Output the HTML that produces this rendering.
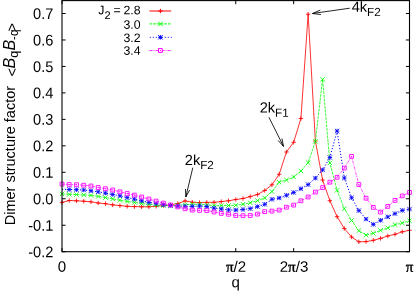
<!DOCTYPE html>
<html><head><meta charset="utf-8"><title>Dimer structure factor</title>
<style>html,body{margin:0;padding:0;background:#fff;}body{width:415px;height:291px;overflow:hidden;}svg{display:block;will-change:transform;}text{font-family:"Liberation Sans",sans-serif;fill:#000;}.s{font-family:"Liberation Serif",serif;stroke:#000;stroke-width:0.4px;}</style></head><body>
<svg width="415" height="291" viewBox="0 0 415 291">
<rect width="415" height="291" fill="#fff"/>
<g fill="none" stroke-linejoin="round">
<polyline points="62.00,202.40 69.24,200.50 76.48,200.80 83.72,201.20 90.96,201.80 98.20,203.00 105.44,203.70 112.68,204.90 119.92,205.60 127.16,206.30 134.40,206.60 141.64,206.80 148.88,206.80 156.11,206.30 163.35,205.60 170.59,204.90 177.83,203.50 185.07,200.90 192.31,202.20 199.55,202.60 206.79,202.40 214.03,202.30 221.27,201.60 228.51,200.80 235.75,199.50 242.99,198.50 250.23,196.60 257.47,194.50 264.71,190.50 271.95,184.80 279.19,174.30 286.43,152.00 293.67,142.30 300.91,118.50 308.15,14.20 315.39,141.00 322.62,180.00 329.86,200.70 337.10,216.70 344.34,228.50 351.58,237.00 358.82,241.80 366.06,241.60 373.30,240.30 380.54,238.40 387.78,236.00 395.02,234.30 402.26,231.80 409.50,230.30" stroke="#ff0000" stroke-width="0.8"/>
<path d="M59.80 202.40H64.20M62.00 200.20V204.60M67.04 200.50H71.44M69.24 198.30V202.70M74.28 200.80H78.68M76.48 198.60V203.00M81.52 201.20H85.92M83.72 199.00V203.40M88.76 201.80H93.16M90.96 199.60V204.00M96.00 203.00H100.40M98.20 200.80V205.20M103.24 203.70H107.64M105.44 201.50V205.90M110.48 204.90H114.88M112.68 202.70V207.10M117.72 205.60H122.12M119.92 203.40V207.80M124.96 206.30H129.36M127.16 204.10V208.50M132.20 206.60H136.60M134.40 204.40V208.80M139.44 206.80H143.84M141.64 204.60V209.00M146.68 206.80H151.07M148.88 204.60V209.00M153.91 206.30H158.31M156.11 204.10V208.50M161.15 205.60H165.55M163.35 203.40V207.80M168.39 204.90H172.79M170.59 202.70V207.10M175.63 203.50H180.03M177.83 201.30V205.70M182.87 200.90H187.27M185.07 198.70V203.10M190.11 202.20H194.51M192.31 200.00V204.40M197.35 202.60H201.75M199.55 200.40V204.80M204.59 202.40H208.99M206.79 200.20V204.60M211.83 202.30H216.23M214.03 200.10V204.50M219.07 201.60H223.47M221.27 199.40V203.80M226.31 200.80H230.71M228.51 198.60V203.00M233.55 199.50H237.95M235.75 197.30V201.70M240.79 198.50H245.19M242.99 196.30V200.70M248.03 196.60H252.43M250.23 194.40V198.80M255.27 194.50H259.67M257.47 192.30V196.70M262.51 190.50H266.91M264.71 188.30V192.70M269.75 184.80H274.15M271.95 182.60V187.00M276.99 174.30H281.39M279.19 172.10V176.50M284.23 152.00H288.63M286.43 149.80V154.20M291.47 142.30H295.87M293.67 140.10V144.50M298.71 118.50H303.11M300.91 116.30V120.70M305.95 14.20H310.35M308.15 12.00V16.40M313.19 141.00H317.59M315.39 138.80V143.20M320.43 180.00H324.82M322.62 177.80V182.20M327.66 200.70H332.06M329.86 198.50V202.90M334.90 216.70H339.30M337.10 214.50V218.90M342.14 228.50H346.54M344.34 226.30V230.70M349.38 237.00H353.78M351.58 234.80V239.20M356.62 241.80H361.02M358.82 239.60V244.00M363.86 241.60H368.26M366.06 239.40V243.80M371.10 240.30H375.50M373.30 238.10V242.50M378.34 238.40H382.74M380.54 236.20V240.60M385.58 236.00H389.98M387.78 233.80V238.20M392.82 234.30H397.22M395.02 232.10V236.50M400.06 231.80H404.46M402.26 229.60V234.00M407.30 230.30H411.70M409.50 228.10V232.50" stroke="#ff0000" stroke-width="0.85"/>
<polyline points="62.00,193.90 69.24,194.30 76.48,194.50 83.72,194.90 90.96,195.40 98.20,196.40 105.44,197.60 112.68,198.90 119.92,200.30 127.16,201.40 134.40,202.40 141.64,203.50 148.88,204.30 156.11,205.10 163.35,205.50 170.59,205.70 177.83,205.30 185.07,204.70 192.31,204.20 199.55,204.40 206.79,205.00 214.03,205.50 221.27,205.50 228.51,205.50 235.75,205.30 242.99,204.30 250.23,202.80 257.47,200.60 264.71,197.90 271.95,191.50 279.19,182.20 286.43,180.00 293.67,177.00 300.91,171.00 308.15,162.70 315.39,141.30 322.62,79.30 329.86,162.90 337.10,190.30 344.34,208.70 351.58,220.50 358.82,230.70 366.06,235.10 373.30,233.30 380.54,230.30 387.78,227.80 395.02,224.70 402.26,223.00 409.50,220.70" stroke="#00ff00" stroke-width="0.8" stroke-dasharray="2.7 1"/>
<path d="M59.80 191.70L64.20 196.10M59.80 196.10L64.20 191.70M67.04 192.10L71.44 196.50M67.04 196.50L71.44 192.10M74.28 192.30L78.68 196.70M74.28 196.70L78.68 192.30M81.52 192.70L85.92 197.10M81.52 197.10L85.92 192.70M88.76 193.20L93.16 197.60M88.76 197.60L93.16 193.20M96.00 194.20L100.40 198.60M96.00 198.60L100.40 194.20M103.24 195.40L107.64 199.80M103.24 199.80L107.64 195.40M110.48 196.70L114.88 201.10M110.48 201.10L114.88 196.70M117.72 198.10L122.12 202.50M117.72 202.50L122.12 198.10M124.96 199.20L129.36 203.60M124.96 203.60L129.36 199.20M132.20 200.20L136.60 204.60M132.20 204.60L136.60 200.20M139.44 201.30L143.84 205.70M139.44 205.70L143.84 201.30M146.68 202.10L151.07 206.50M146.68 206.50L151.07 202.10M153.91 202.90L158.31 207.30M153.91 207.30L158.31 202.90M161.15 203.30L165.55 207.70M161.15 207.70L165.55 203.30M168.39 203.50L172.79 207.90M168.39 207.90L172.79 203.50M175.63 203.10L180.03 207.50M175.63 207.50L180.03 203.10M182.87 202.50L187.27 206.90M182.87 206.90L187.27 202.50M190.11 202.00L194.51 206.40M190.11 206.40L194.51 202.00M197.35 202.20L201.75 206.60M197.35 206.60L201.75 202.20M204.59 202.80L208.99 207.20M204.59 207.20L208.99 202.80M211.83 203.30L216.23 207.70M211.83 207.70L216.23 203.30M219.07 203.30L223.47 207.70M219.07 207.70L223.47 203.30M226.31 203.30L230.71 207.70M226.31 207.70L230.71 203.30M233.55 203.10L237.95 207.50M233.55 207.50L237.95 203.10M240.79 202.10L245.19 206.50M240.79 206.50L245.19 202.10M248.03 200.60L252.43 205.00M248.03 205.00L252.43 200.60M255.27 198.40L259.67 202.80M255.27 202.80L259.67 198.40M262.51 195.70L266.91 200.10M262.51 200.10L266.91 195.70M269.75 189.30L274.15 193.70M269.75 193.70L274.15 189.30M276.99 180.00L281.39 184.40M276.99 184.40L281.39 180.00M284.23 177.80L288.63 182.20M284.23 182.20L288.63 177.80M291.47 174.80L295.87 179.20M291.47 179.20L295.87 174.80M298.71 168.80L303.11 173.20M298.71 173.20L303.11 168.80M305.95 160.50L310.35 164.90M305.95 164.90L310.35 160.50M313.19 139.10L317.59 143.50M313.19 143.50L317.59 139.10M320.43 77.10L324.82 81.50M320.43 81.50L324.82 77.10M327.66 160.70L332.06 165.10M327.66 165.10L332.06 160.70M334.90 188.10L339.30 192.50M334.90 192.50L339.30 188.10M342.14 206.50L346.54 210.90M342.14 210.90L346.54 206.50M349.38 218.30L353.78 222.70M349.38 222.70L353.78 218.30M356.62 228.50L361.02 232.90M356.62 232.90L361.02 228.50M363.86 232.90L368.26 237.30M363.86 237.30L368.26 232.90M371.10 231.10L375.50 235.50M371.10 235.50L375.50 231.10M378.34 228.10L382.74 232.50M378.34 232.50L382.74 228.10M385.58 225.60L389.98 230.00M385.58 230.00L389.98 225.60M392.82 222.50L397.22 226.90M392.82 226.90L397.22 222.50M400.06 220.80L404.46 225.20M400.06 225.20L404.46 220.80M407.30 218.50L411.70 222.90M407.30 222.90L411.70 218.50" stroke="#00ff00" stroke-width="0.85"/>
<polyline points="62.00,189.30 69.24,189.50 76.48,189.70 83.72,190.00 90.96,190.80 98.20,191.80 105.44,193.10 112.68,194.50 119.92,195.80 127.16,197.60 134.40,199.10 141.64,200.80 148.88,202.40 156.11,203.50 163.35,204.70 170.59,205.50 177.83,206.00 185.07,206.40 192.31,206.40 199.55,206.00 206.79,206.60 214.03,208.20 221.27,208.90 228.51,209.90 235.75,210.10 242.99,209.50 250.23,208.60 257.47,206.60 264.71,204.30 271.95,199.30 279.19,198.00 286.43,195.30 293.67,192.50 300.91,188.70 308.15,184.60 315.39,178.10 322.62,169.90 329.86,157.50 337.10,131.00 344.34,178.00 351.58,197.70 358.82,210.60 366.06,219.10 373.30,224.40 380.54,220.30 387.78,216.80 395.02,213.60 402.26,210.40 409.50,209.10" stroke="#0000ff" stroke-width="1" stroke-dasharray="1.2 1.8"/>
<path d="M67.04 189.50H71.44M69.24 187.30V191.70M67.04 187.30L71.44 191.70M67.04 191.70L71.44 187.30M74.28 189.70H78.68M76.48 187.50V191.90M74.28 187.50L78.68 191.90M74.28 191.90L78.68 187.50M81.52 190.00H85.92M83.72 187.80V192.20M81.52 187.80L85.92 192.20M81.52 192.20L85.92 187.80M88.76 190.80H93.16M90.96 188.60V193.00M88.76 188.60L93.16 193.00M88.76 193.00L93.16 188.60M96.00 191.80H100.40M98.20 189.60V194.00M96.00 189.60L100.40 194.00M96.00 194.00L100.40 189.60M103.24 193.10H107.64M105.44 190.90V195.30M103.24 190.90L107.64 195.30M103.24 195.30L107.64 190.90M110.48 194.50H114.88M112.68 192.30V196.70M110.48 192.30L114.88 196.70M110.48 196.70L114.88 192.30M117.72 195.80H122.12M119.92 193.60V198.00M117.72 193.60L122.12 198.00M117.72 198.00L122.12 193.60M124.96 197.60H129.36M127.16 195.40V199.80M124.96 195.40L129.36 199.80M124.96 199.80L129.36 195.40M132.20 199.10H136.60M134.40 196.90V201.30M132.20 196.90L136.60 201.30M132.20 201.30L136.60 196.90M139.44 200.80H143.84M141.64 198.60V203.00M139.44 198.60L143.84 203.00M139.44 203.00L143.84 198.60M146.68 202.40H151.07M148.88 200.20V204.60M146.68 200.20L151.07 204.60M146.68 204.60L151.07 200.20M153.91 203.50H158.31M156.11 201.30V205.70M153.91 201.30L158.31 205.70M153.91 205.70L158.31 201.30M161.15 204.70H165.55M163.35 202.50V206.90M161.15 202.50L165.55 206.90M161.15 206.90L165.55 202.50M168.39 205.50H172.79M170.59 203.30V207.70M168.39 203.30L172.79 207.70M168.39 207.70L172.79 203.30M175.63 206.00H180.03M177.83 203.80V208.20M175.63 203.80L180.03 208.20M175.63 208.20L180.03 203.80M182.87 206.40H187.27M185.07 204.20V208.60M182.87 204.20L187.27 208.60M182.87 208.60L187.27 204.20M190.11 206.40H194.51M192.31 204.20V208.60M190.11 204.20L194.51 208.60M190.11 208.60L194.51 204.20M197.35 206.00H201.75M199.55 203.80V208.20M197.35 203.80L201.75 208.20M197.35 208.20L201.75 203.80M204.59 206.60H208.99M206.79 204.40V208.80M204.59 204.40L208.99 208.80M204.59 208.80L208.99 204.40M211.83 208.20H216.23M214.03 206.00V210.40M211.83 206.00L216.23 210.40M211.83 210.40L216.23 206.00M219.07 208.90H223.47M221.27 206.70V211.10M219.07 206.70L223.47 211.10M219.07 211.10L223.47 206.70M226.31 209.90H230.71M228.51 207.70V212.10M226.31 207.70L230.71 212.10M226.31 212.10L230.71 207.70M233.55 210.10H237.95M235.75 207.90V212.30M233.55 207.90L237.95 212.30M233.55 212.30L237.95 207.90M240.79 209.50H245.19M242.99 207.30V211.70M240.79 207.30L245.19 211.70M240.79 211.70L245.19 207.30M248.03 208.60H252.43M250.23 206.40V210.80M248.03 206.40L252.43 210.80M248.03 210.80L252.43 206.40M255.27 206.60H259.67M257.47 204.40V208.80M255.27 204.40L259.67 208.80M255.27 208.80L259.67 204.40M262.51 204.30H266.91M264.71 202.10V206.50M262.51 202.10L266.91 206.50M262.51 206.50L266.91 202.10M269.75 199.30H274.15M271.95 197.10V201.50M269.75 197.10L274.15 201.50M269.75 201.50L274.15 197.10M276.99 198.00H281.39M279.19 195.80V200.20M276.99 195.80L281.39 200.20M276.99 200.20L281.39 195.80M284.23 195.30H288.63M286.43 193.10V197.50M284.23 193.10L288.63 197.50M284.23 197.50L288.63 193.10M291.47 192.50H295.87M293.67 190.30V194.70M291.47 190.30L295.87 194.70M291.47 194.70L295.87 190.30M298.71 188.70H303.11M300.91 186.50V190.90M298.71 186.50L303.11 190.90M298.71 190.90L303.11 186.50M305.95 184.60H310.35M308.15 182.40V186.80M305.95 182.40L310.35 186.80M305.95 186.80L310.35 182.40M313.19 178.10H317.59M315.39 175.90V180.30M313.19 175.90L317.59 180.30M313.19 180.30L317.59 175.90M320.42 169.90H324.82M322.62 167.70V172.10M320.42 167.70L324.82 172.10M320.42 172.10L324.82 167.70M327.66 157.50H332.06M329.86 155.30V159.70M327.66 155.30L332.06 159.70M327.66 159.70L332.06 155.30M334.90 131.00H339.30M337.10 128.80V133.20M334.90 128.80L339.30 133.20M334.90 133.20L339.30 128.80M342.14 178.00H346.54M344.34 175.80V180.20M342.14 175.80L346.54 180.20M342.14 180.20L346.54 175.80M349.38 197.70H353.78M351.58 195.50V199.90M349.38 195.50L353.78 199.90M349.38 199.90L353.78 195.50M356.62 210.60H361.02M358.82 208.40V212.80M356.62 208.40L361.02 212.80M356.62 212.80L361.02 208.40M363.86 219.10H368.26M366.06 216.90V221.30M363.86 216.90L368.26 221.30M363.86 221.30L368.26 216.90M371.10 224.40H375.50M373.30 222.20V226.60M371.10 222.20L375.50 226.60M371.10 226.60L375.50 222.20M378.34 220.30H382.74M380.54 218.10V222.50M378.34 218.10L382.74 222.50M378.34 222.50L382.74 218.10M385.58 216.80H389.98M387.78 214.60V219.00M385.58 214.60L389.98 219.00M385.58 219.00L389.98 214.60M392.82 213.60H397.22M395.02 211.40V215.80M392.82 211.40L397.22 215.80M392.82 215.80L397.22 211.40M400.06 210.40H404.46M402.26 208.20V212.60M400.06 208.20L404.46 212.60M400.06 212.60L404.46 208.20M407.30 209.10H411.70M409.50 206.90V211.30M407.30 206.90L411.70 211.30M407.30 211.30L411.70 206.90" stroke="#0000ff" stroke-width="0.85"/>
<polyline points="62.00,184.10 69.24,184.50 76.48,184.70 83.72,185.20 90.96,186.00 98.20,187.50 105.44,188.70 112.68,190.00 119.92,191.80 127.16,193.50 134.40,195.10 141.64,197.00 148.88,199.00 156.11,201.10 163.35,203.10 170.59,205.00 177.83,206.90 185.07,208.80 192.31,210.10 199.55,210.40 206.79,210.60 214.03,212.00 221.27,213.40 228.51,214.30 235.75,215.50 242.99,215.70 250.23,215.50 257.47,214.10 264.71,211.60 271.95,211.10 279.19,210.10 286.43,207.20 293.67,205.10 300.91,200.80 308.15,197.00 315.39,192.10 322.62,187.60 329.86,182.20 337.10,177.30 344.34,168.10 351.58,156.40 358.82,184.50 366.06,198.20 373.30,207.40 380.54,212.10 387.78,206.40 395.02,200.40 402.26,195.90 409.50,192.40" stroke="#ff00ff" stroke-width="0.7" stroke-dasharray="3 1 1 1"/>
<path d="M60.10 182.20h3.80v3.80h-3.80zM67.34 182.60h3.80v3.80h-3.80zM74.58 182.80h3.80v3.80h-3.80zM81.82 183.30h3.80v3.80h-3.80zM89.06 184.10h3.80v3.80h-3.80zM96.30 185.60h3.80v3.80h-3.80zM103.54 186.80h3.80v3.80h-3.80zM110.78 188.10h3.80v3.80h-3.80zM118.02 189.90h3.80v3.80h-3.80zM125.26 191.60h3.80v3.80h-3.80zM132.50 193.20h3.80v3.80h-3.80zM139.74 195.10h3.80v3.80h-3.80zM146.97 197.10h3.80v3.80h-3.80zM154.21 199.20h3.80v3.80h-3.80zM161.45 201.20h3.80v3.80h-3.80zM168.69 203.10h3.80v3.80h-3.80zM175.93 205.00h3.80v3.80h-3.80zM183.17 206.90h3.80v3.80h-3.80zM190.41 208.20h3.80v3.80h-3.80zM197.65 208.50h3.80v3.80h-3.80zM204.89 208.70h3.80v3.80h-3.80zM212.13 210.10h3.80v3.80h-3.80zM219.37 211.50h3.80v3.80h-3.80zM226.61 212.40h3.80v3.80h-3.80zM233.85 213.60h3.80v3.80h-3.80zM241.09 213.80h3.80v3.80h-3.80zM248.33 213.60h3.80v3.80h-3.80zM255.57 212.20h3.80v3.80h-3.80zM262.81 209.70h3.80v3.80h-3.80zM270.05 209.20h3.80v3.80h-3.80zM277.29 208.20h3.80v3.80h-3.80zM284.53 205.30h3.80v3.80h-3.80zM291.77 203.20h3.80v3.80h-3.80zM299.01 198.90h3.80v3.80h-3.80zM306.25 195.10h3.80v3.80h-3.80zM313.49 190.20h3.80v3.80h-3.80zM320.73 185.70h3.80v3.80h-3.80zM327.96 180.30h3.80v3.80h-3.80zM335.20 175.40h3.80v3.80h-3.80zM342.44 166.20h3.80v3.80h-3.80zM349.68 154.50h3.80v3.80h-3.80zM356.92 182.60h3.80v3.80h-3.80zM364.16 196.30h3.80v3.80h-3.80zM371.40 205.50h3.80v3.80h-3.80zM378.64 210.20h3.80v3.80h-3.80zM385.88 204.50h3.80v3.80h-3.80zM393.12 198.50h3.80v3.80h-3.80zM400.36 194.00h3.80v3.80h-3.80zM407.60 190.50h3.80v3.80h-3.80z" stroke="#ff00ff" stroke-width="0.9"/>
</g>
<g fill="#ff00ff"><rect x="61.50" y="183.60" width="1" height="1"/><rect x="68.74" y="184.00" width="1" height="1"/><rect x="75.98" y="184.20" width="1" height="1"/><rect x="83.22" y="184.70" width="1" height="1"/><rect x="90.46" y="185.50" width="1" height="1"/><rect x="97.70" y="187.00" width="1" height="1"/><rect x="104.94" y="188.20" width="1" height="1"/><rect x="112.18" y="189.50" width="1" height="1"/><rect x="119.42" y="191.30" width="1" height="1"/><rect x="126.66" y="193.00" width="1" height="1"/><rect x="133.90" y="194.60" width="1" height="1"/><rect x="141.14" y="196.50" width="1" height="1"/><rect x="148.38" y="198.50" width="1" height="1"/><rect x="155.61" y="200.60" width="1" height="1"/><rect x="162.85" y="202.60" width="1" height="1"/><rect x="170.09" y="204.50" width="1" height="1"/><rect x="177.33" y="206.40" width="1" height="1"/><rect x="184.57" y="208.30" width="1" height="1"/><rect x="191.81" y="209.60" width="1" height="1"/><rect x="199.05" y="209.90" width="1" height="1"/><rect x="206.29" y="210.10" width="1" height="1"/><rect x="213.53" y="211.50" width="1" height="1"/><rect x="220.77" y="212.90" width="1" height="1"/><rect x="228.01" y="213.80" width="1" height="1"/><rect x="235.25" y="215.00" width="1" height="1"/><rect x="242.49" y="215.20" width="1" height="1"/><rect x="249.73" y="215.00" width="1" height="1"/><rect x="256.97" y="213.60" width="1" height="1"/><rect x="264.21" y="211.10" width="1" height="1"/><rect x="271.45" y="210.60" width="1" height="1"/><rect x="278.69" y="209.60" width="1" height="1"/><rect x="285.93" y="206.70" width="1" height="1"/><rect x="293.17" y="204.60" width="1" height="1"/><rect x="300.41" y="200.30" width="1" height="1"/><rect x="307.65" y="196.50" width="1" height="1"/><rect x="314.89" y="191.60" width="1" height="1"/><rect x="322.12" y="187.10" width="1" height="1"/><rect x="329.36" y="181.70" width="1" height="1"/><rect x="336.60" y="176.80" width="1" height="1"/><rect x="343.84" y="167.60" width="1" height="1"/><rect x="351.08" y="155.90" width="1" height="1"/><rect x="358.32" y="184.00" width="1" height="1"/><rect x="365.56" y="197.70" width="1" height="1"/><rect x="372.80" y="206.90" width="1" height="1"/><rect x="380.04" y="211.60" width="1" height="1"/><rect x="387.28" y="205.90" width="1" height="1"/><rect x="394.52" y="199.90" width="1" height="1"/><rect x="401.76" y="195.40" width="1" height="1"/><rect x="409.00" y="191.90" width="1" height="1"/></g>
<g fill="none">
<path d="M149.5 11.0H171.2" stroke="#ff0000" stroke-width="1"/>
<path d="M158.20 11.00H162.60M160.40 8.80V13.20" stroke="#ff0000" stroke-width="1"/>
<path d="M149.5 23.9H171.2" stroke="#00ff00" stroke-width="1" stroke-dasharray="2.7 1"/>
<path d="M158.20 21.70L162.60 26.10M158.20 26.10L162.60 21.70" stroke="#00ff00" stroke-width="1"/>
<path d="M149.8 37.3H172.0" stroke="#0000ff" stroke-width="1" stroke-dasharray="1 2"/>
<path d="M158.20 37.30H162.60M160.40 35.10V39.50M158.20 35.10L162.60 39.50M158.20 39.50L162.60 35.10" stroke="#0000ff" stroke-width="1"/>
<path d="M149.5 50.5H171.2" stroke="#ff00ff" stroke-width="0.8" stroke-dasharray="3 1 1 1"/>
<path d="M158.50 48.60h3.80v3.80h-3.80z" stroke="#ff00ff" stroke-width="1" fill="#fff"/>
<rect x="159.90" y="50.00" width="1" height="1" fill="#ff00ff" stroke="none"/>
</g>
<g fill="none" stroke="#000" stroke-width="1.1">
<rect x="62.00" y="0.60" width="347.50" height="251.10"/>
<path d="M62.00 251.70h3.60M409.50 251.70h-3.60M62.00 225.24h3.60M409.50 225.24h-3.60M62.00 198.77h3.60M409.50 198.77h-3.60M62.00 172.30h3.60M409.50 172.30h-3.60M62.00 145.84h3.60M409.50 145.84h-3.60M62.00 119.37h3.60M409.50 119.37h-3.60M62.00 92.90h3.60M409.50 92.90h-3.60M62.00 66.44h3.60M409.50 66.44h-3.60M62.00 39.97h3.60M409.50 39.97h-3.60M62.00 13.50h3.60M409.50 13.50h-3.60M62.00 251.70v-3.60M62.00 0.60v3.60M235.75 251.70v-3.60M235.75 0.60v3.60M293.67 251.70v-3.60M293.67 0.60v3.60M409.50 251.70v-3.60M409.50 0.60v3.60" stroke-width="1"/>
</g>
<text transform="translate(53.4 257.15) rotate(0.03) scale(1 1.060)" font-size="14.6" text-anchor="end">-0.2</text>
<text transform="translate(53.4 230.69) rotate(0.03) scale(1 1.060)" font-size="14.6" text-anchor="end">-0.1</text>
<text transform="translate(53.4 204.22) rotate(0.03) scale(1 1.060)" font-size="14.6" text-anchor="end">0.0</text>
<text transform="translate(53.4 177.75) rotate(0.03) scale(1 1.060)" font-size="14.6" text-anchor="end">0.1</text>
<text transform="translate(53.4 151.29) rotate(0.03) scale(1 1.060)" font-size="14.6" text-anchor="end">0.2</text>
<text transform="translate(53.4 124.82) rotate(0.03) scale(1 1.060)" font-size="14.6" text-anchor="end">0.3</text>
<text transform="translate(53.4 98.35) rotate(0.03) scale(1 1.060)" font-size="14.6" text-anchor="end">0.4</text>
<text transform="translate(53.4 71.89) rotate(0.03) scale(1 1.060)" font-size="14.6" text-anchor="end">0.5</text>
<text transform="translate(53.4 45.42) rotate(0.03) scale(1 1.060)" font-size="14.6" text-anchor="end">0.6</text>
<text transform="translate(53.4 18.95) rotate(0.03) scale(1 1.060)" font-size="14.6" text-anchor="end">0.7</text>
<text transform="translate(62 271.7) rotate(0.03) scale(1 1.000)" font-size="15.1" text-anchor="middle">0</text>
<text transform="translate(236 271.7) rotate(0.03) scale(1 1.000)" font-size="15.1" text-anchor="middle"><tspan class="s">π</tspan>/2</text>
<text transform="translate(294 271.7) rotate(0.03) scale(1 1.000)" font-size="15.1" text-anchor="middle">2<tspan class="s">π</tspan>/3</text>
<text transform="translate(409.6 271.7) rotate(0.03) scale(1 1.000)" font-size="15.1" text-anchor="middle" class="s">π</text>
<text transform="translate(235.8 287.2) rotate(0.03) scale(1 1.000)" font-size="15.1" text-anchor="middle">q</text>
<text xml:space="preserve" transform="translate(14.9 225.2) rotate(-90) scale(1 1.04)" font-size="14.5">Dimer structure factor<tspan x="148.8" dy="1.8">&lt;</tspan><tspan x="156.8" dy="-1.8" font-style="italic" font-size="16.2">B</tspan><tspan x="167.5" dy="3.4" font-size="12.6">q</tspan><tspan x="174.7" dy="-3.4" font-style="italic" font-size="16.2">B</tspan><tspan x="185.3" dy="3.4" font-size="11.6">-q</tspan><tspan x="193.6" dy="-1.6">&gt;</tspan></text>
<text transform="translate(140.6 14.30) rotate(0.03)" font-size="12.3" text-anchor="end">2.8</text>
<text transform="translate(140.6 28.70) rotate(0.03)" font-size="12.3" text-anchor="end">3.0</text>
<text transform="translate(140.6 42.00) rotate(0.03)" font-size="12.3" text-anchor="end">3.2</text>
<text transform="translate(140.6 54.80) rotate(0.03)" font-size="12.3" text-anchor="end">3.4</text>
<text transform="translate(98.3 14.3) rotate(0.03)" font-size="12.3">J<tspan font-size="11.0" dy="4.6" dx="0">2</tspan><tspan dy="-4.6" dx="-0.4"> =</tspan></text>
<text transform="translate(184.80 164.90) rotate(0.03)" font-size="14.6">2k<tspan font-size="11.7" dy="4.2">F2</tspan></text>
<path d="M192.80 167.70L185.80 197.00M185.51 189.01L185.80 197.00L189.67 190.00" fill="none" stroke="#000" stroke-width="0.85" stroke-linejoin="miter"/>
<text transform="translate(259.70 112.50) rotate(0.03)" font-size="14.6">2k<tspan font-size="11.7" dy="4.2">F1</tspan></text>
<path d="M268.90 117.20L283.50 146.40M278.14 140.46L283.50 146.40L281.96 138.55" fill="none" stroke="#000" stroke-width="0.85" stroke-linejoin="miter"/>
<text transform="translate(351.70 11.70) rotate(0.03)" font-size="14.6">4k<tspan font-size="11.7" dy="4.2">F2</tspan></text>
<path d="M349.80 8.20L312.40 13.50M320.31 10.13L312.40 13.50L320.94 14.54" fill="none" stroke="#000" stroke-width="0.85" stroke-linejoin="miter"/>
</svg></body></html>
